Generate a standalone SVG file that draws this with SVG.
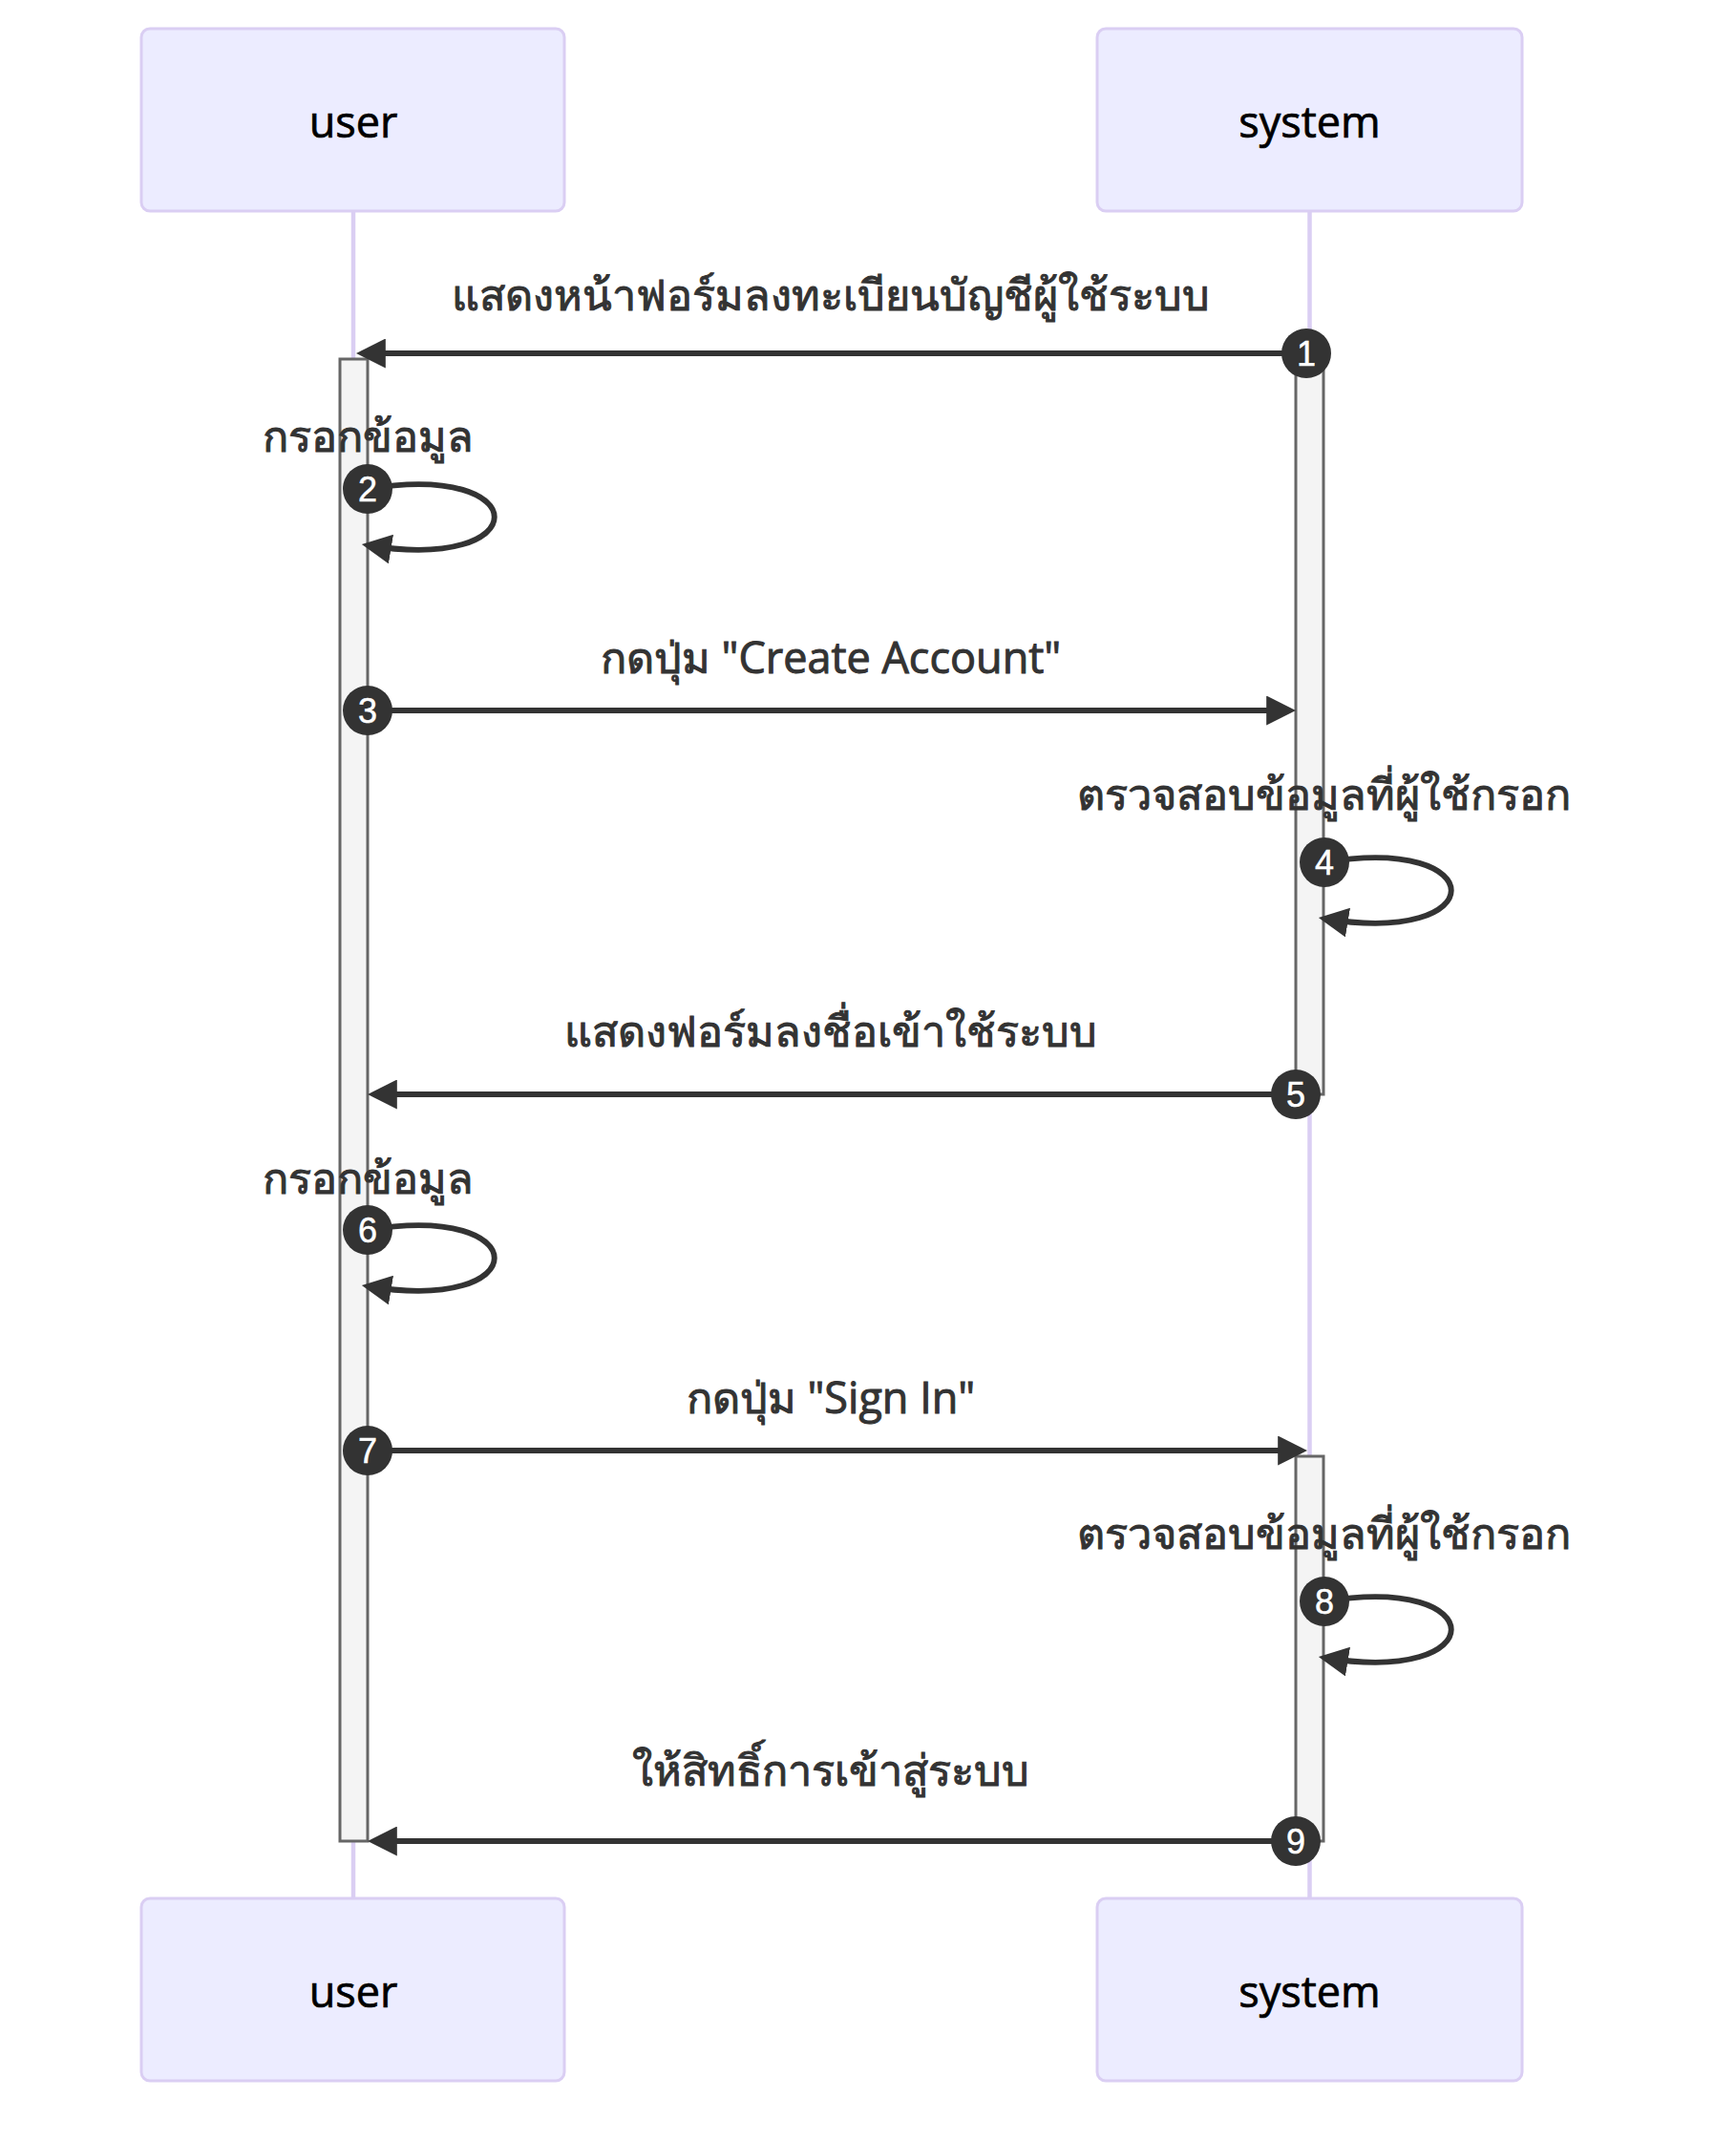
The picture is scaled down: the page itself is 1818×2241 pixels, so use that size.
<svg xmlns="http://www.w3.org/2000/svg" width="1818" height="2241" viewBox="0 0 1818 2241">
<style>
.actor{fill:#ECECFF;stroke:#DACEF3;stroke-width:3}
.actortext{font-family:"Open Sans","Noto Sans",sans-serif;font-size:45px;font-weight:400;fill:#000;stroke:#000;stroke-width:0.7;text-anchor:middle}
.lifeline{stroke:#DACEF3;stroke-width:4.5}
.act{fill:#F4F4F4;stroke:#666;stroke-width:3}
.msg{stroke:#333;stroke-width:5.9;fill:none}
.msgtext{font-family:"Open Sans","Noto Sans",sans-serif;font-size:45px;font-weight:400;fill:#333;stroke:#333;stroke-width:1;text-anchor:middle}
.seq{fill:#333}
.seqtext{font-family:"Liberation Sans",Arial,sans-serif;font-size:36px;fill:#fff;stroke:#fff;stroke-width:0.5;text-anchor:middle}
</style>
<defs>
<marker id="arrow" viewBox="0 0 10 10" refX="8" refY="5" markerUnits="userSpaceOnUse" markerWidth="31" markerHeight="31" orient="auto">
<path d="M0,0 L10,5 L0,10 z" fill="#333"/>
</marker>
</defs>
<rect width="1818" height="2241" fill="#fff"/>
<g id="lifelines">
<line class="lifeline" x1="370" y1="222" x2="370" y2="1988"/>
<line class="lifeline" x1="1371.5" y1="222" x2="1371.5" y2="1988"/>
</g>
<g id="actor-user-top"><rect class="actor" x="148" y="30" width="443" height="191" rx="9"/><text class="actortext" x="370" y="144">user</text></g>
<g id="actor-system-top"><rect class="actor" x="1149" y="30" width="445" height="191" rx="9"/><text class="actortext" x="1371.5" y="144">system</text></g>
<g id="actor-user-bottom"><rect class="actor" x="148" y="1988" width="443" height="191" rx="9"/><text class="actortext" x="370" y="2102">user</text></g>
<g id="actor-system-bottom"><rect class="actor" x="1149" y="1988" width="445" height="191" rx="9"/><text class="actortext" x="1371.5" y="2102">system</text></g>
<g id="activations">
<rect class="act" x="356" y="376" width="29" height="1552"/>
<rect class="act" x="1357" y="376" width="29" height="770"/>
<rect class="act" x="1357" y="1525" width="29" height="403"/>
</g>
<g id="connectors">
<line class="msg" x1="1369" y1="370" x2="379" y2="370" marker-end="url(#arrow)"/>
<path class="msg" d="M385,512 C562,482.5 562,600.4 385,571" marker-end="url(#arrow)"/>
<line class="msg" x1="385" y1="744" x2="1351" y2="744" marker-end="url(#arrow)"/>
<path class="msg" d="M1387,903 C1564,873.5 1564,991.4 1387,962" marker-end="url(#arrow)"/>
<line class="msg" x1="1357" y1="1146" x2="391" y2="1146" marker-end="url(#arrow)"/>
<path class="msg" d="M385,1288 C562,1258.5 562,1376.4 385,1347" marker-end="url(#arrow)"/>
<line class="msg" x1="385" y1="1519" x2="1363" y2="1519" marker-end="url(#arrow)"/>
<path class="msg" d="M1387,1677 C1564,1647.5 1564,1765.4 1387,1736" marker-end="url(#arrow)"/>
<line class="msg" x1="1357" y1="1928" x2="391" y2="1928" marker-end="url(#arrow)"/>
</g>
<g id="labels">
<text class="msgtext" x="870" y="325">แสดงหน้าฟอร์มลงทะเบียนบัญชีผู้ใช้ระบบ</text>
<text class="msgtext" x="385" y="473">กรอกข้อมูล</text>
<text class="msgtext" x="870" y="705">กดปุ่ม "Create Account"</text>
<text class="msgtext" x="1386" y="848">ตรวจสอบข้อมูลที่ผู้ใช้กรอก</text>
<text class="msgtext" x="870" y="1096">แสดงฟอร์มลงชื่อเข้าใช้ระบบ</text>
<text class="msgtext" x="385" y="1250">กรอกข้อมูล</text>
<text class="msgtext" x="870" y="1480">กดปุ่ม "Sign In"</text>
<text class="msgtext" x="1386" y="1622">ตรวจสอบข้อมูลที่ผู้ใช้กรอก</text>
<text class="msgtext" x="870" y="1870">ให้สิทธิ์การเข้าสู่ระบบ</text>
</g>
<g id="sequence-numbers">
<circle class="seq" cx="1368" cy="370" r="26"/><text class="seqtext" x="1368" y="383">1</text>
<circle class="seq" cx="385" cy="512" r="26"/><text class="seqtext" x="385" y="525">2</text>
<circle class="seq" cx="385" cy="744" r="26"/><text class="seqtext" x="385" y="757">3</text>
<circle class="seq" cx="1387" cy="903" r="26"/><text class="seqtext" x="1387" y="916">4</text>
<circle class="seq" cx="1357" cy="1146" r="26"/><text class="seqtext" x="1357" y="1159">5</text>
<circle class="seq" cx="385" cy="1288" r="26"/><text class="seqtext" x="385" y="1301">6</text>
<circle class="seq" cx="385" cy="1519" r="26"/><text class="seqtext" x="385" y="1532">7</text>
<circle class="seq" cx="1387" cy="1677" r="26"/><text class="seqtext" x="1387" y="1690">8</text>
<circle class="seq" cx="1357" cy="1928" r="26"/><text class="seqtext" x="1357" y="1941">9</text>
</g>
</svg>
